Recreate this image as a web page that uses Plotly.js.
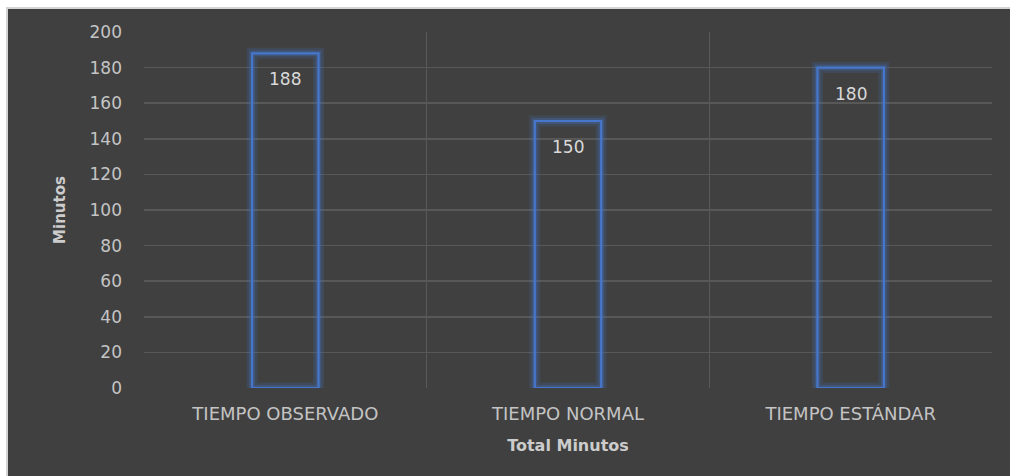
<!DOCTYPE html>
<html>
<head>
<meta charset="utf-8">
<script src="https://cdn.plot.ly/plotly-3.0.1.min.js"></script>
<style>
  html, body { margin: 0; padding: 0; background: #ffffff; }
  #chart { position: absolute; left: 6px; top: 7px; width: 1002px; height: 467px;
           border-left: 2px solid #d4d4d4; border-top: 2px solid #d4d4d4; }
</style>
</head>
<body>
<div id="chart"></div>
<script>
const categories = ["TIEMPO OBSERVADO", "TIEMPO NORMAL", "TIEMPO ESTÁNDAR"];
const minutos = [188, 150, 180];
const yTicks = [0, 20, 40, 60, 80, 100, 120, 140, 160, 180, 200];

const font = "DejaVu Sans, sans-serif";
const barBlue = "#4677CC";

const glowOuter = {
  type: "bar", x: categories, y: minutos, width: 0.235,
  marker: { color: "rgba(0,0,0,0)", line: { color: "rgba(68,114,196,0.18)", width: 11 } },
  hoverinfo: "skip", showlegend: false
};
const glow = {
  type: "bar", x: categories, y: minutos, width: 0.235,
  marker: { color: "rgba(0,0,0,0)", line: { color: "rgba(68,114,196,0.3)", width: 6 } },
  hoverinfo: "skip", showlegend: false
};
const bars = {
  type: "bar", x: categories, y: minutos, width: 0.235,
  marker: { color: "rgba(0,0,0,0)", line: { color: barBlue, width: 2.2 } },
  showlegend: false
};

const annotations = categories.map((c, i) => ({
  x: c, y: minutos[i], xref: "x", yref: "y",
  text: String(minutos[i]), showarrow: false,
  yanchor: "middle", yshift: -26,
  font: { family: font, size: 17, color: "#d9d9d9" }
}));

const layout = {
  width: 1002, height: 467,
  margin: { l: 136, r: 18, t: 23, b: 88 },
  paper_bgcolor: "#404040", plot_bgcolor: "#404040",
  barmode: "overlay",
  showlegend: false,
  xaxis: {
    type: "category",
    tickson: "boundaries",
    showgrid: true, gridcolor: "#585858", gridwidth: 1.5,
    showline: false, zeroline: false, ticks: "",
    tickfont: { family: font, size: 18, color: "#c4c4c4" },
    ticklabelstandoff: 13,
    title: { text: "<b>Total Minutos</b>", font: { family: font, size: 16, color: "#cccccc" }, standoff: 16 }
  },
  yaxis: {
    range: [0, 200],
    tickvals: yTicks,
    showgrid: true, gridcolor: "#585858", gridwidth: 1.5,
    zeroline: false, showline: false, ticks: "",
    tickfont: { family: font, size: 17, color: "#c4c4c4" },
    ticklabelstandoff: 21,
    title: { text: "<b>Minutos</b>", font: { family: font, size: 15, color: "#cccccc" }, standoff: 20 }
  },
  annotations: annotations
};

Plotly.newPlot("chart", [glowOuter, glow, bars], layout, { displayModeBar: false, staticPlot: true });
</script>
</body>
</html>
